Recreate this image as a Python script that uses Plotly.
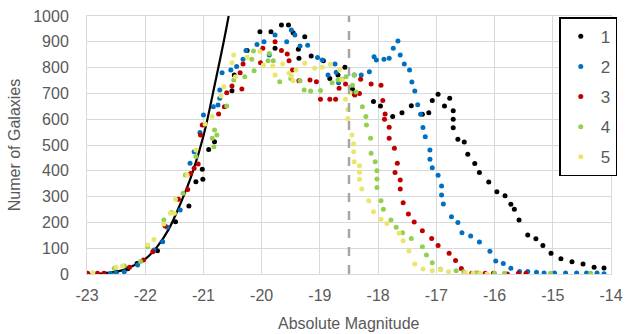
import plotly.graph_objects as go

# ---- data ----
s1_x = [-22.7, -22.5, -22.3, -22.14, -21.79, -21.48, -21.25, -21.13, -21.01, -21.02, -20.91, -20.81,
        -20.51, -20.47, -20.25, -20.03, -19.84, -19.77, -19.66, -19.54, -19.46, -19.37, -19.36, -19.26,
        -19.15, -18.94, -18.83, -18.69, -18.57, -18.44, -18.41, -18.08, -17.96, -17.75, -17.59, -17.43,
        -17.24, -17.13, -17.07, -16.97, -16.86, -16.77, -16.71, -16.71, -16.71, -16.63, -16.52, -16.46,
        -16.34, -16.26, -16.10, -15.96, -15.82, -15.72, -15.66, -15.58, -15.43, -15.29, -15.17, -15.03,
        -14.86, -14.67, -14.48, -14.29, -14.12]
s1_y = [2, 8, 20, 41, 90, 203, 264, 358, 367, 406, 483, 513,
        710, 771, 866, 939, 939, 875, 965, 965, 935, 871, 836, 920,
        845, 827, 758, 771, 801, 716, 698, 669, 651, 610, 625, 652,
        619, 625, 672, 697, 651, 681, 633, 600, 567, 522, 512, 464,
        428, 393, 357, 319, 303, 270, 251, 209, 151, 137, 110, 80,
        59, 47, 39, 26, 23]

s2_x = [-22.6, -22.5, -22.36, -22.13, -21.85, -21.70, -21.62, -21.40, -21.23, -21.16, -21.06, -21.00,
        -20.83, -20.75, -20.72, -20.72, -20.68, -20.53, -20.43, -20.32, -20.27, -20.08, -19.96, -19.87,
        -19.77, -19.57, -19.49, -19.43, -19.34, -19.21, -19.04, -18.96, -18.86, -18.74, -18.72, -18.68,
        -18.41, -18.29, -18.15, -18.07, -18.03, -17.90, -17.81, -17.74, -17.66, -17.62, -17.55, -17.46,
        -17.42, -17.37, -17.32, -17.27, -17.23, -17.19, -17.11, -17.11, -17.07, -16.97, -16.91, -16.91,
        -16.88, -16.74, -16.63, -16.56, -16.41, -16.26, -16.08, -15.98, -15.85, -15.72, -15.57, -15.43,
        -15.28, -15.15, -14.97, -14.78, -14.59, -14.42, -14.24, -14.12]
s2_y = [2, 5, 9, 35, 93, 125, 181, 248, 429, 474, 548, 616,
        648, 655, 681, 713, 780, 791, 804, 832, 866, 890, 900, 849,
        926, 900, 946, 926, 884, 887, 839, 829, 771, 814, 782, 741,
        771, 771, 784, 842, 829, 832, 836, 875, 903, 849, 814, 791,
        744, 709, 656, 619, 568, 532, 481, 445, 412, 383, 341, 306,
        271, 222, 200, 160, 147, 124, 88, 50, 41, 22, 10, 10,
        7, 4, 4, 4, 4, 4, 4, 1]

s3_x = [-22.99, -22.82, -22.71, -22.27, -22.03, -21.87, -21.66, -21.43, -21.27, -21.22, -21.16, -21.09,
        -21.05, -21.02, -20.74, -20.64, -20.60, -20.51, -20.34, -20.37, -20.32, -20.02, -19.98, -19.77,
        -19.66, -19.56, -19.53, -19.47, -19.36, -19.17, -19.06, -18.99, -18.83, -18.73, -18.67, -18.56,
        -18.40, -18.32, -18.30, -18.12, -17.95, -17.92, -17.88, -17.89, -17.81, -17.81, -17.72, -17.67,
        -17.71, -17.62, -17.62, -17.57, -17.48, -17.38, -17.24, -17.08, -16.97, -16.78, -16.67, -16.57,
        -16.39, -16.28, -16.16, -16.02, -15.78, -15.59, -15.46]
s3_y = [3, 3, 3, 26, 54, 86, 186, 290, 328, 390, 410, 426,
        539, 578, 620, 648, 703, 729, 717, 780, 814, 819, 875, 900,
        866, 853, 827, 791, 749, 752, 745, 677, 677, 677, 720, 736,
        694, 700, 755, 736, 732, 672, 620, 600, 569, 526, 487, 429,
        393, 364, 329, 276, 233, 202, 168, 138, 110, 80, 52, 21,
        3, 3, 3, 3, 0, 3, 3]

s4_x = [-22.53, -22.36, -22.08, -21.96, -21.68, -21.55, -21.35, -21.31, -21.13, -20.85, -20.82, -20.81,
        -20.77, -20.60, -20.48, -20.29, -20.17, -20.13, -20.14, -19.87, -19.89, -19.80, -19.69, -19.50,
        -19.34, -19.27, -19.16, -18.99, -18.79, -18.69, -18.62, -18.55, -18.41, -18.44, -18.38, -18.27,
        -18.21, -18.20, -18.13, -18.12, -18.05, -18.02, -18.02, -18.02, -17.95, -17.91, -17.78, -17.69,
        -17.58, -17.43, -17.24, -17.17, -17.07, -16.93, -16.66, -16.53, -16.32, -16.00, -15.83, -15.04,
        -14.35]
s4_y = [22, 31, 48, 106, 209, 238, 313, 384, 455, 526, 493, 558,
        539, 651, 752, 765, 832, 788, 864, 855, 827, 827, 745, 758,
        749, 713, 709, 711, 741, 752, 755, 765, 771, 732, 705, 648,
        610, 578, 526, 468, 435, 400, 368, 335, 284, 251, 209, 181,
        160, 138, 106, 74, 44, 18, 13, 9, 5, 3, 3, 3,
        3]

s5_x = [-22.90, -22.50, -22.39, -21.96, -21.85, -21.68, -21.57, -21.50, -21.48, -21.28, -21.13, -20.97,
        -20.85, -20.70, -20.65, -20.51, -20.48, -20.45, -20.25, -20.03, -19.97, -19.81, -19.77, -19.64,
        -19.53, -19.49, -19.46, -19.41, -19.26, -19.09, -18.96, -18.82, -18.66, -18.62, -18.56, -18.48,
        -18.52, -18.52, -18.45, -18.42, -18.42, -18.41, -18.32, -18.32, -18.32, -18.28, -18.16, -18.08,
        -17.95, -17.85, -17.64, -17.57, -17.47, -17.37, -17.23, -17.07, -16.93, -16.79, -16.50, -16.37,
        -16.25, -16.13]
s5_y = [5, 26, 31, 112, 134, 194, 235, 235, 290, 384, 481, 581,
        610, 690, 726, 819, 849, 765, 840, 862, 810, 806, 771, 814,
        778, 767, 749, 791, 817, 797, 801, 813, 793, 752, 677, 703,
        638, 603, 539, 504, 474, 435, 420, 394, 367, 329, 284, 241,
        212, 196, 158, 129, 89, 39, 19, 13, 16, 9, 5, 3,
        3, 0]

fit_x = [-23.0, -22.8, -22.6, -22.4, -22.2, -22.0, -21.8, -21.6, -21.4, -21.2, -21.0, -20.8, -20.6, -20.5]
fit_y = [0, 1, 5, 14, 33, 58, 104, 172, 270, 385, 535, 740, 960, 1090]

cut_x = -18.5

x_ticks = [-23, -22, -21, -20, -19, -18, -17, -16, -15, -14]
x_labels = ["-23", "-22", "-21", "-20", "-19", "-18", "-17", "-16", "-15", "-14"]

names = ["1", "2", "3", "4", "5"]
colors = ["#000000", "#0070C0", "#C00000", "#92D050", "#E9E66A"]
xs = [s1_x, s2_x, s3_x, s4_x, s5_x]
ys = [s1_y, s2_y, s3_y, s4_y, s5_y]

fig = go.Figure()
fig.add_trace(go.Scatter(x=fit_x, y=fit_y, mode="lines", line=dict(color="black", width=2.2, shape="spline"),
                         showlegend=False, hoverinfo="skip"))
for i in range(5):
    fig.add_trace(go.Scatter(x=xs[i], y=ys[i], mode="markers", name=names[i], legendgroup=names[i],
                             marker=dict(color=colors[i], size=5)))

fig.add_shape(type="line", x0=cut_x, x1=cut_x, y0=0, y1=1000, xref="x", yref="y",
              line=dict(color="#A6A6A6", width=2.5, dash="dash"))

fig.add_annotation(text="Absolute Magnitude", xref="paper", yref="paper", x=0.5, y=-0.19,
                   xanchor="center", yanchor="middle", showarrow=False,
                   font=dict(size=16, color="#595959"))

font_family = "Liberation Sans"
fig.update_layout(
    width=629, height=334,
    margin=dict(l=87, r=14, t=16, b=60),
    paper_bgcolor="white", plot_bgcolor="white",
    font=dict(family=font_family, size=15, color="#595959"),
    legend=dict(x=1.012, y=0.995, xanchor="right", yanchor="top",
                bordercolor="black", borderwidth=1.5, bgcolor="white",
                font=dict(size=17, color="#595959"), itemwidth=30,
                tracegroupgap=5),
    showlegend=True,
)
fig.update_xaxes(range=[-23, -14], tickvals=x_ticks, ticktext=x_labels, automargin=False,
                 showgrid=True, gridcolor="#D9D9D9", gridwidth=1,
                 showline=True, linecolor="#D9D9D9", mirror=True, zeroline=False,
                 ticks="", ticklabelstandoff=7, tickfont=dict(size=16, color="#595959"))
fig.update_yaxes(range=[0, 1000], dtick=100, automargin=False,
                 showgrid=True, gridcolor="#D9D9D9", gridwidth=1,
                 showline=True, linecolor="#D9D9D9", mirror=True, zeroline=False,
                 ticks="", ticklabelstandoff=14, tickfont=dict(size=16, color="#595959"),
                 title=dict(text="Numer of Galaxies", font=dict(size=16, color="#595959"), standoff=8))

fig.write_html("out.html")
